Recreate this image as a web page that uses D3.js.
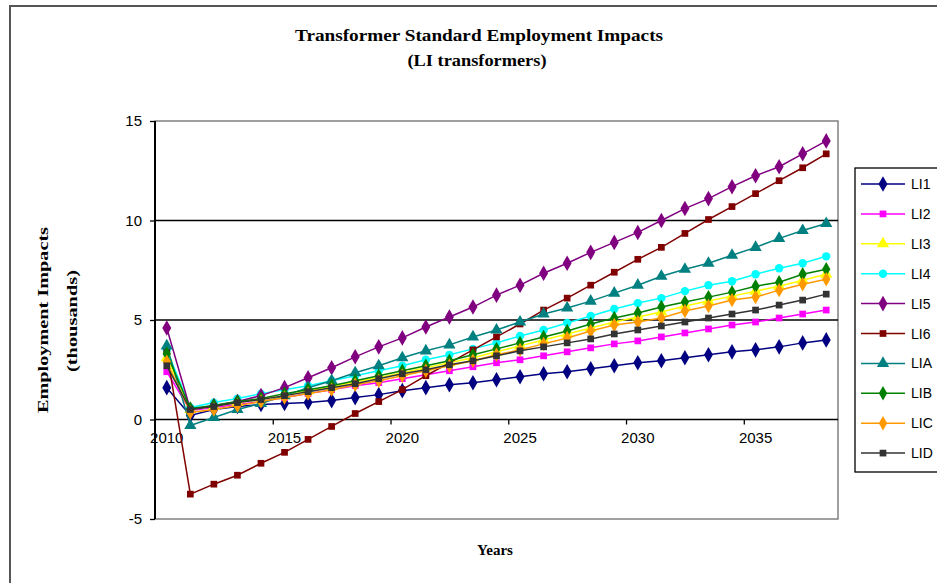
<!DOCTYPE html>
<html>
<head>
<meta charset="utf-8">
<script src="https://cdn.jsdelivr.net/npm/d3@7"></script>
<style>
  body { margin: 0; background: #fff; }
  svg { display: block; }
</style>
</head>
<body>
<svg id="chart" width="937" height="583"></svg>
<script>
// years on the category axis
const years = d3.range(2010, 2039);
const labelYears = [2010, 2015, 2020, 2025, 2030, 2035];
const yTicks = [-5, 0, 5, 10, 15];

const seriesNames = ["LI1", "LI2", "LI3", "LI4", "LI5", "LI6", "LIA", "LIB", "LIC", "LID"];

// values (thousands)
const li1 = [1.6, 0.2, 0.5, 0.65, 0.75, 0.8, 0.85, 0.95, 1.1, 1.25, 1.45, 1.6, 1.75, 1.85, 2.0, 2.15, 2.3, 2.4, 2.55, 2.7, 2.85, 2.95, 3.1, 3.25, 3.4, 3.5, 3.65, 3.85, 4.0];
const li2 = [2.4, 0.45, 0.6, 0.75, 0.9, 1.1, 1.3, 1.5, 1.7, 1.85, 2.05, 2.25, 2.45, 2.65, 2.85, 3.0, 3.2, 3.4, 3.6, 3.8, 3.95, 4.15, 4.35, 4.55, 4.75, 4.9, 5.1, 5.3, 5.5];
const li3 = [3.1, 0.5, 0.65, 0.85, 1.0, 1.2, 1.45, 1.65, 1.9, 2.1, 2.35, 2.6, 2.85, 3.1, 3.4, 3.7, 4.0, 4.3, 4.6, 4.9, 5.15, 5.4, 5.7, 5.95, 6.2, 6.45, 6.7, 7.0, 7.3];
const li4 = [3.5, 0.6, 0.85, 1.05, 1.3, 1.5, 1.7, 1.95, 2.2, 2.45, 2.7, 3.0, 3.25, 3.55, 3.85, 4.2, 4.5, 4.85, 5.2, 5.55, 5.85, 6.1, 6.45, 6.75, 6.95, 7.3, 7.6, 7.85, 8.2];
const li5 = [4.6, 0.5, 0.7, 0.9, 1.2, 1.6, 2.1, 2.6, 3.15, 3.65, 4.1, 4.65, 5.15, 5.65, 6.25, 6.75, 7.35, 7.85, 8.4, 8.9, 9.4, 10.0, 10.6, 11.1, 11.7, 12.25, 12.7, 13.35, 14.0];
const li6 = [3.4, -3.75, -3.25, -2.8, -2.2, -1.65, -1.0, -0.35, 0.3, 0.9, 1.5, 2.2, 2.85, 3.5, 4.15, 4.8, 5.5, 6.1, 6.75, 7.4, 8.05, 8.65, 9.35, 10.05, 10.7, 11.35, 12.0, 12.65, 13.35];
const lia = [3.7, -0.3, 0.1, 0.5, 0.8, 1.2, 1.6, 1.95, 2.35, 2.7, 3.1, 3.45, 3.75, 4.15, 4.5, 4.9, 5.3, 5.6, 5.95, 6.35, 6.75, 7.2, 7.55, 7.85, 8.25, 8.65, 9.1, 9.5, 9.85];
const lib = [3.3, 0.55, 0.7, 0.9, 1.05, 1.3, 1.5, 1.7, 1.95, 2.2, 2.45, 2.7, 2.95, 3.25, 3.55, 3.85, 4.15, 4.45, 4.8, 5.1, 5.35, 5.65, 5.9, 6.15, 6.4, 6.7, 6.9, 7.3, 7.55];
const lic = [2.9, 0.35, 0.5, 0.7, 0.9, 1.1, 1.3, 1.5, 1.75, 1.95, 2.2, 2.45, 2.7, 2.95, 3.25, 3.5, 3.8, 4.1, 4.45, 4.75, 4.9, 5.1, 5.45, 5.7, 6.0, 6.15, 6.5, 6.8, 7.05];
const lid = [2.7, 0.5, 0.65, 0.85, 1.0, 1.2, 1.4, 1.6, 1.8, 2.05, 2.3, 2.5, 2.75, 2.95, 3.2, 3.45, 3.65, 3.85, 4.05, 4.3, 4.5, 4.7, 4.9, 5.1, 5.3, 5.5, 5.75, 6.0, 6.3];

const seriesValues = [li1, li2, li3, li4, li5, li6, lia, lib, lic, lid];
const colors = ["#000080", "#ff00ff", "#ffff00", "#00ffff", "#800080", "#800000", "#008080", "#008000", "#ff9900", "#333333"];
const shapes = [d3.symbolDiamond, d3.symbolSquare, d3.symbolTriangle, d3.symbolCircle, d3.symbolDiamond,
  d3.symbolSquare, d3.symbolTriangle, d3.symbolDiamond, d3.symbolDiamond, d3.symbolSquare];
const sizes = [70, 45, 65, 55, 70, 45, 65, 60, 60, 45];

const svg = d3.select("#chart");
const plotLeft = 155, plotRight = 838, plotTop = 121, plotBottom = 519;

// outer chart border (runs off the right and bottom edge)
svg.append("rect")
  .attr("x", 10).attr("y", 6)
  .attr("width", 940).attr("height", 600)
  .attr("fill", "none").attr("stroke", "#555").attr("stroke-width", 2);

const x = d3.scaleBand().domain(years).range([plotLeft, plotRight]).paddingInner(0).paddingOuter(0);
const xLin = d3.scaleLinear().domain([2010, 2039]).range([plotLeft, plotRight]);
const y = d3.scaleLinear().domain([-5, 15]).range([plotBottom, plotTop]);
const cx = d => x(d) + x.bandwidth() / 2;

// plot area border
svg.append("rect")
  .attr("x", plotLeft).attr("y", plotTop)
  .attr("width", plotRight - plotLeft).attr("height", plotBottom - plotTop)
  .attr("fill", "none").attr("stroke", "#808080").attr("stroke-width", 1.5);

// gridlines
svg.append("g").selectAll("line")
  .data([5, 10])
  .join("line")
  .attr("x1", plotLeft).attr("x2", plotRight)
  .attr("y1", d => y(d)).attr("y2", d => y(d))
  .attr("stroke", "#000").attr("stroke-width", 1.3);

// y axis (plain hyphen for negatives, like the original)
const yAxis = svg.append("g")
  .attr("transform", "translate(" + plotLeft + ",0)")
  .call(d3.axisLeft(y).tickValues(yTicks).tickSize(5).tickPadding(8).tickFormat(d => String(d)));
yAxis.select(".domain").remove();
yAxis.selectAll("line").attr("stroke", "#000").attr("stroke-width", 1.3);
yAxis.selectAll("text").attr("font-family", "Liberation Sans, Arial, sans-serif").attr("font-size", 15).attr("fill", "#000");
svg.append("line")
  .attr("x1", plotLeft).attr("x2", plotLeft).attr("y1", plotTop).attr("y2", plotBottom)
  .attr("stroke", "#000").attr("stroke-width", 2);

// x axis at zero: tick marks at category boundaries, labels centred on categories
const xTickG = svg.append("g")
  .attr("transform", "translate(0," + y(0) + ")")
  .call(d3.axisBottom(xLin).tickValues([2015, 2020, 2025, 2030, 2035]).tickSize(5).tickFormat(""));
xTickG.select(".domain").remove();
xTickG.selectAll("line").attr("stroke", "#000").attr("stroke-width", 1.3);

const xLab = svg.append("g")
  .attr("transform", "translate(0," + y(0) + ")")
  .call(d3.axisBottom(x).tickValues(labelYears).tickSize(0).tickPadding(13));
xLab.select(".domain").remove();
xLab.selectAll("text").attr("font-family", "Liberation Sans, Arial, sans-serif").attr("font-size", 15).attr("fill", "#000");

svg.append("line")
  .attr("x1", plotLeft).attr("x2", plotRight).attr("y1", y(0)).attr("y2", y(0))
  .attr("stroke", "#000").attr("stroke-width", 1.5);

// series lines + markers
const line = d3.line().x((d, i) => cx(years[i])).y(d => y(d));

seriesValues.forEach(function (vals, k) {
  const g = svg.append("g");
  g.append("path")
    .attr("d", line(vals))
    .attr("fill", "none")
    .attr("stroke", colors[k])
    .attr("stroke-width", 1.5);
  g.selectAll("path.m")
    .data(vals)
    .join("path")
    .attr("class", "m")
    .attr("transform", (d, i) => "translate(" + cx(years[i]) + "," + y(d) + ")")
    .attr("d", d3.symbol().type(shapes[k]).size(sizes[k]))
    .attr("fill", colors[k]);
});

// titles
const serif = "Liberation Serif, Times New Roman, serif";
svg.append("text")
  .attr("x", 479).attr("y", 41)
  .attr("text-anchor", "middle")
  .attr("font-family", serif).attr("font-weight", "bold").attr("font-size", 16)
  .attr("textLength", 368).attr("lengthAdjust", "spacingAndGlyphs")
  .text("Transformer  Standard Employment Impacts");
svg.append("text")
  .attr("x", 477).attr("y", 66)
  .attr("text-anchor", "middle")
  .attr("font-family", serif).attr("font-weight", "bold").attr("font-size", 16)
  .attr("textLength", 139).attr("lengthAdjust", "spacingAndGlyphs")
  .text("(LI transformers)");

svg.append("text")
  .attr("transform", "translate(48,320) rotate(-90)")
  .attr("text-anchor", "middle")
  .attr("font-family", serif).attr("font-weight", "bold").attr("font-size", 15)
  .attr("textLength", 186).attr("lengthAdjust", "spacingAndGlyphs")
  .text("Employment Impacts");
svg.append("text")
  .attr("transform", "translate(77,321) rotate(-90)")
  .attr("text-anchor", "middle")
  .attr("font-family", serif).attr("font-weight", "bold").attr("font-size", 15)
  .attr("textLength", 102).attr("lengthAdjust", "spacingAndGlyphs")
  .text("(thousands)");

svg.append("text")
  .attr("x", 495).attr("y", 555)
  .attr("text-anchor", "middle")
  .attr("font-family", serif).attr("font-weight", "bold").attr("font-size", 15)
  .text("Years");

// legend
const legend = svg.append("g");
legend.append("rect")
  .attr("x", 855).attr("y", 168)
  .attr("width", 95).attr("height", 304)
  .attr("fill", "#fff").attr("stroke", "#000").attr("stroke-width", 1.3);

seriesNames.forEach(function (name, k) {
  const ly = 184 + k * 29.9;
  legend.append("line")
    .attr("x1", 861).attr("x2", 905).attr("y1", ly).attr("y2", ly)
    .attr("stroke", colors[k]).attr("stroke-width", 1.5);
  legend.append("path")
    .attr("transform", "translate(883," + ly + ")")
    .attr("d", d3.symbol().type(shapes[k]).size(sizes[k]))
    .attr("fill", colors[k]);
  legend.append("text")
    .attr("x", 911).attr("y", ly + 5)
    .attr("font-family", "Liberation Sans, Arial, sans-serif").attr("font-size", 14)
    .text(name);
});
</script>
</body>
</html>
